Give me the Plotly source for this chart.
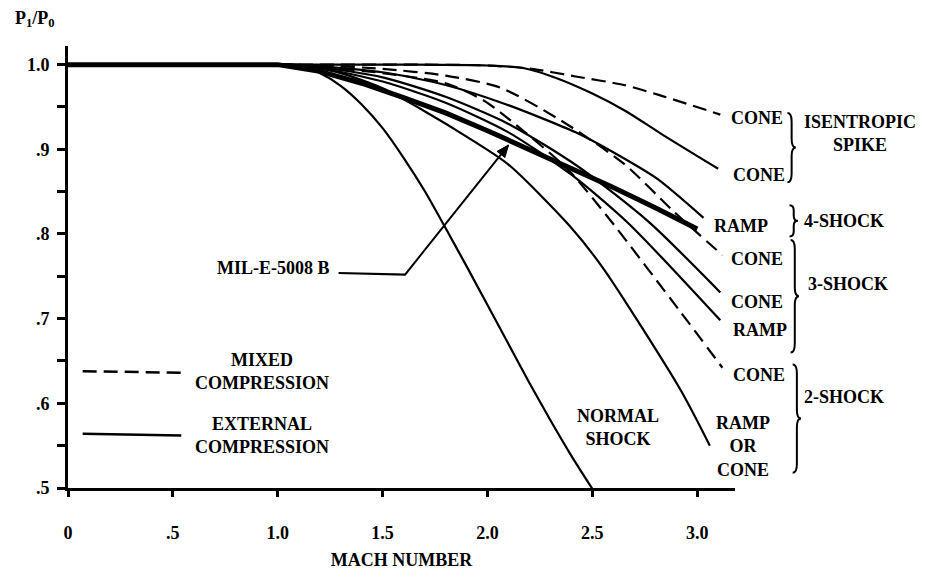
import math
import plotly.graph_objects as go

# ---------------- data ----------------
mach_iso_mixed = [1.0, 1.6, 2.0, 2.21, 2.42, 2.65, 2.82, 3.11]
p_iso_mixed = [1.0, 1.0, 0.999, 0.995, 0.986, 0.976, 0.964, 0.941]

mach_iso_ext = [1.0, 1.6, 2.0, 2.17, 2.33, 2.49, 2.66, 2.83, 3.10]
p_iso_ext = [1.0, 1.0, 0.999, 0.996, 0.984, 0.967, 0.945, 0.918, 0.877]

mach_four_ramp = [1.0, 1.2, 1.5, 1.8, 2.09, 2.42, 2.61, 2.81, 3.03]
p_four_ramp = [1.0, 0.998, 0.991, 0.976, 0.953, 0.92, 0.895, 0.865, 0.819]

mach_mil = [0, 0.5, 1.0, 1.2, 1.4, 1.6, 1.8, 2.0, 2.2, 2.4, 2.6, 2.8, 3.0]
p_mil = [1.0, 1.0, 1.0, 0.992, 0.978, 0.961, 0.943, 0.922, 0.9, 0.878, 0.855, 0.831, 0.806]

mach_three_cone_mixed = [1.0, 1.2, 1.5, 1.8, 2.06, 2.35, 2.65, 2.89, 3.12]
p_three_cone_mixed = [1.0, 0.999, 0.995, 0.987, 0.973, 0.934, 0.883, 0.826, 0.775]

mach_three_cone = [1.0, 1.2, 1.5, 1.8, 2.1, 2.43, 2.77, 3.11]
p_three_cone = [1.0, 0.997, 0.985, 0.962, 0.93, 0.88, 0.814, 0.731]

mach_three_ramp = [1.0, 1.2, 1.5, 1.8, 2.1, 2.4, 2.67, 3.11]
p_three_ramp = [1.0, 0.996, 0.98, 0.955, 0.92, 0.87, 0.813, 0.698]

mach_two_cone_mixed = [1.0, 1.2, 1.5, 1.8, 1.98, 2.09, 2.38, 2.58, 2.92, 3.12]
p_two_cone_mixed = [1.0, 0.997, 0.99, 0.978, 0.958, 0.938, 0.877, 0.818, 0.708, 0.642]

mach_two_ramp_cone = [1.0, 1.1, 1.3, 1.5, 1.7, 1.9, 2.1, 2.39, 2.55, 2.92, 3.06]
p_two_ramp_cone = [1.0, 1.0, 0.99, 0.972, 0.945, 0.915, 0.882, 0.81, 0.76, 0.616, 0.55]

mach_normal = [1.0, 1.1, 1.2, 1.3, 1.4, 1.5, 1.6, 1.7, 1.8, 1.9, 2.0, 2.1, 2.2, 2.3, 2.4, 2.5]
p_normal = [1.0, 0.999, 0.99, 0.975, 0.953, 0.925, 0.89, 0.851, 0.807, 0.762, 0.716,
            0.67, 0.624, 0.58, 0.538, 0.499]

x_tick_vals = [0, 0.5, 1.0, 1.5, 2.0, 2.5, 3.0]
x_tick_text = ["0", ".5", "1.0", "1.5", "2.0", "2.5", "3.0"]
y_tick_vals = [0.5, 0.6, 0.7, 0.8, 0.9, 1.0]
y_tick_text = [".5", ".6", ".7", ".8", ".9", "1.0"]
y_minor_vals = [0.55, 0.65, 0.75, 0.85, 0.95]

X_RANGE = [0, 3.18]
Y_RANGE = [0.5, 1.022]

FONT = "Liberation Serif"
BLACK = "#000000"
DASH = "14px,7px"
FS = 18

W, H = 925, 579
MARGIN = dict(l=60, r=198, t=38, b=99)
PLOT_W = W - MARGIN["l"] - MARGIN["r"]
PLOT_H = H - MARGIN["t"] - MARGIN["b"]
PX_PER_M = PLOT_W / (X_RANGE[1] - X_RANGE[0])
PX_PER_P = PLOT_H / (Y_RANGE[1] - Y_RANGE[0])

fig = go.Figure()


def add_curve(m, p, dash="solid", width=2.2, shape="spline"):
    fig.add_trace(go.Scatter(
        x=m, y=p, mode="lines",
        line=dict(color=BLACK, width=width, dash=dash, shape=shape, smoothing=0.7),
        showlegend=False, hoverinfo="skip"))


add_curve(mach_iso_mixed, p_iso_mixed, dash=DASH)
add_curve(mach_iso_ext, p_iso_ext)
add_curve(mach_four_ramp, p_four_ramp)
add_curve(mach_three_cone_mixed, p_three_cone_mixed, dash=DASH)
add_curve(mach_three_cone, p_three_cone)
add_curve(mach_three_ramp, p_three_ramp)
add_curve(mach_two_cone_mixed, p_two_cone_mixed, dash=DASH)
add_curve(mach_two_ramp_cone, p_two_ramp_cone)
add_curve(mach_normal, p_normal)
add_curve(mach_mil, p_mil, width=5, shape="linear")


def to_paper(m, p):
    return ((m - X_RANGE[0]) / (X_RANGE[1] - X_RANGE[0]),
            (p - Y_RANGE[0]) / (Y_RANGE[1] - Y_RANGE[0]))


def txt(m, p, text, xanchor="center", align="center", size=FS):
    px, py = to_paper(m, p)
    fig.add_annotation(x=px, y=py, xref="paper", yref="paper", text="<b>" + text + "</b>",
                       showarrow=False, xanchor=xanchor, yanchor="middle", align=align,
                       font=dict(family=FONT, size=size, color=BLACK))


# curve labels at right
txt(3.15, 0.937, "CONE", xanchor="left")
txt(3.16, 0.870, "CONE", xanchor="left")
txt(3.07, 0.809, "RAMP", xanchor="left")
txt(3.15, 0.770, "CONE", xanchor="left")
txt(3.15, 0.720, "CONE", xanchor="left")
txt(3.16, 0.687, "RAMP", xanchor="left")
txt(3.16, 0.634, "CONE", xanchor="left")
txt(3.22, 0.549, "RAMP<br>OR<br>CONE")

# group labels
txt(3.775, 0.919, "ISENTROPIC<br>SPIKE")
txt(3.70, 0.815, "4-SHOCK")
txt(3.72, 0.741, "3-SHOCK")
txt(3.70, 0.607, "2-SHOCK")


def brace(m, p_top, p_bot):
    w = 0.04
    x0, yt = to_paper(m, p_top)
    _, yb = to_paper(m, p_bot)
    x1, _ = to_paper(m + w / 2, p_top)
    x2, _ = to_paper(m + w, p_top)
    ym = (yt + yb) / 2
    r = min(0.02, (yt - yb) / 6)
    path = (f"M {x0},{yt} Q {x1},{yt} {x1},{yt - r} L {x1},{ym + r} "
            f"Q {x1},{ym} {x2},{ym} Q {x1},{ym} {x1},{ym - r} "
            f"L {x1},{yb + r} Q {x1},{yb} {x0},{yb}")
    fig.add_shape(type="path", path=path, xref="paper", yref="paper",
                  line=dict(color=BLACK, width=2))


brace(3.43, 0.943, 0.861)
brace(3.44, 0.834, 0.797)
brace(3.445, 0.793, 0.660)
brace(3.455, 0.646, 0.518)

# NORMAL SHOCK label
txt(2.62, 0.572, "NORMAL<br>SHOCK")

# MIL-E-5008 B label with bent leader and arrow head on the MIL curve
txt(1.26, 0.760, "MIL-E-5008 B", xanchor="right")
lead = [(1.29, 0.754), (1.607, 0.752), (2.10, 0.905)]
fig.add_shape(type="path", xref="x", yref="y",
              path="M " + " L ".join(f"{m},{p}" for m, p in lead),
              line=dict(color=BLACK, width=2))
(tm, tp), (hm, hp) = lead[1], lead[2]
dxp, dyp = (hm - tm) * PX_PER_M, (hp - tp) * PX_PER_P
L = math.hypot(dxp, dyp)
ux, uy = dxp / L, dyp / L
head_len, head_half = 12, 5
bx, by = -ux * head_len, -uy * head_len
pts = [(0, 0), (bx - uy * head_half, by + ux * head_half), (bx + uy * head_half, by - ux * head_half)]
fig.add_shape(type="path", xref="x", yref="y",
              path="M " + " L ".join(f"{hm + a / PX_PER_M},{hp + b / PX_PER_P}" for a, b in pts) + " Z",
              fillcolor=BLACK, line=dict(color=BLACK, width=1))

# legend (drawn)
fig.add_shape(type="line", x0=0.07, y0=0.638, x1=0.54, y1=0.636,
              line=dict(color=BLACK, width=2.5, dash=DASH))
fig.add_shape(type="line", x0=0.07, y0=0.564, x1=0.54, y1=0.562,
              line=dict(color=BLACK, width=2.5))
txt(0.925, 0.638, "MIXED<br>COMPRESSION")
txt(0.925, 0.562, "EXTERNAL<br>COMPRESSION")

tickfont = dict(family=FONT, size=FS, color=BLACK, weight="bold")
titlefont = dict(family=FONT, size=FS, color=BLACK, weight="bold")
fig.update_xaxes(range=X_RANGE, showline=True, linewidth=3, linecolor=BLACK,
                 ticks="outside", ticklen=6, tickwidth=2.5, tickcolor=BLACK,
                 tickvals=x_tick_vals, ticktext=x_tick_text, tickfont=tickfont,
                 ticklabelstandoff=20, showgrid=False, zeroline=False,
                 title=dict(text="MACH NUMBER", font=titlefont, standoff=12))
fig.update_yaxes(range=Y_RANGE, showline=True, linewidth=3, linecolor=BLACK,
                 ticks="outside", ticklen=8, tickwidth=2.5, tickcolor=BLACK,
                 tickvals=y_tick_vals, ticktext=y_tick_text, tickfont=tickfont,
                 ticklabelstandoff=4, showgrid=False, zeroline=False,
                 minor=dict(tickvals=y_minor_vals, ticks="outside", ticklen=8,
                            tickwidth=2.5, tickcolor=BLACK))

fig.update_layout(width=W, height=H, margin=MARGIN,
                  title=dict(text="P<sub>1</sub>/P<sub>0</sub>", font=titlefont,
                             xref="container", yref="container", x=0.029, y=0.984,
                             xanchor="center", yanchor="middle"),
                  plot_bgcolor="white", paper_bgcolor="white", showlegend=False)

fig.write_html("out.html")
